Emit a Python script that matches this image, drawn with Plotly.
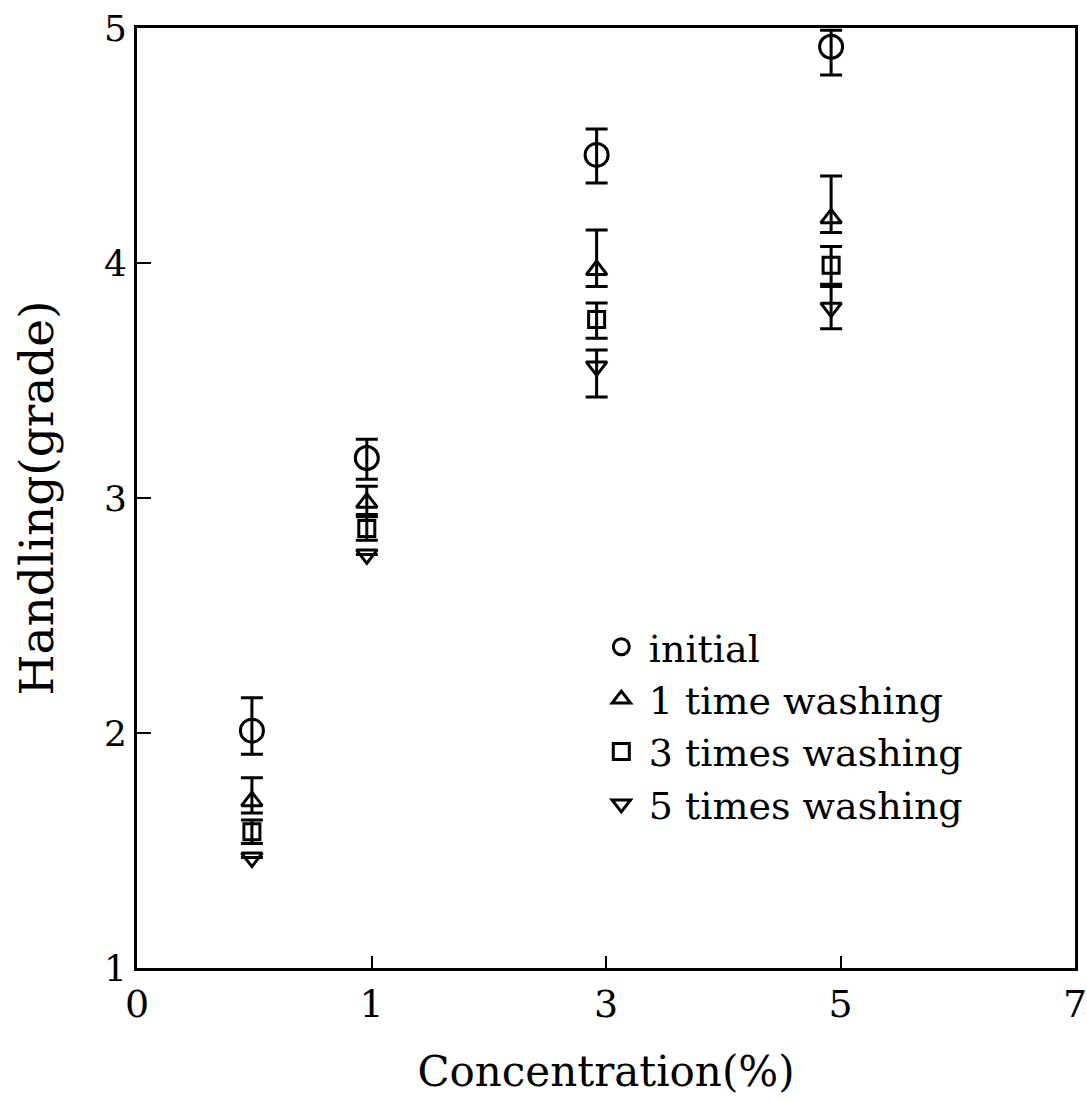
import plotly.graph_objects as go

# x positions on the (evenly spaced) concentration axis; tick labels 0,1,3,5,7
conc_pos = [0.49, 0.98, 1.96, 2.96]
tick_pos = [0, 1, 2, 3, 4]
tick_text = ["0", "1", "3", "5", "7"]

series_names = ["initial", "1 time washing", "3 times washing", "5 times washing"]
initial = [2.01, 3.17, 4.46, 4.92]
initial_up = [0.14, 0.08, 0.11, 0.07]
initial_dn = [0.10, 0.09, 0.12, 0.12]

wash1 = [1.71, 2.98, 3.97, 4.19]
wash1_up = [0.10, 0.07, 0.17, 0.18]
wash1_dn = [0.05, 0.05, 0.07, 0.06]

wash3 = [1.58, 2.87, 3.76, 3.99]
wash3_up = [0.05, 0.05, 0.07, 0.08]
wash3_dn = [0.05, 0.05, 0.08, 0.08]

wash5 = [1.47, 2.76, 3.56, 3.81]
wash5_up = [0.0, 0.0, 0.07, 0.09]
wash5_dn = [0.0, 0.0, 0.13, 0.09]

symbols = ["circle-open", "triangle-up-open", "square-open", "triangle-down-open"]
sizes = [23, 18, 16, 18]

FONT = "DejaVu Serif, Liberation Serif, serif"

fig = go.Figure()
data = [
    (initial, initial_up, initial_dn),
    (wash1, wash1_up, wash1_dn),
    (wash3, wash3_up, wash3_dn),
    (wash5, wash5_up, wash5_dn),
]
for name, (vals, up, dn), sym, sz in zip(series_names, data, symbols, sizes):
    fig.add_trace(go.Scatter(
        x=conc_pos, y=vals, mode="markers", name=name,
        marker=dict(symbol=sym, size=sz, color="black", line=dict(width=3, color="black")),
        error_y=dict(type="data", symmetric=False, array=up, arrayminus=dn,
                     color="black", thickness=3, width=11),
    ))

fig.update_layout(
    width=1087, height=1096,
    paper_bgcolor="white", plot_bgcolor="white",
    margin=dict(l=137, r=12, t=28, b=128),
    font=dict(family=FONT, size=32, color="black"),
    showlegend=True,
    legend=dict(x=0.487, y=0.375, xanchor="left", yanchor="top",
                bgcolor="rgba(0,0,0,0)", font=dict(family=FONT, size=38, color="black"),
                itemsizing="trace", itemwidth=45),
)
fig.update_xaxes(
    range=[0, 4], tickmode="array", tickvals=tick_pos, ticktext=tick_text,
    ticks="inside", ticklen=12, tickwidth=2, tickcolor="black",
    showline=True, linecolor="black", linewidth=3, mirror=True,
    showgrid=False, zeroline=False, ticklabeloverflow="allow", automargin=False,
    tickfont=dict(family=FONT, size=38),
    title=dict(text="Concentration(%)", font=dict(family=FONT, size=42), standoff=44),
)
fig.update_yaxes(
    range=[1, 5], tickmode="array", tickvals=[1, 2, 3, 4, 5],
    ticks="inside", ticklen=14, tickwidth=2, tickcolor="black",
    showline=True, linecolor="black", linewidth=3, mirror=True,
    showgrid=False, zeroline=False, ticklabeloverflow="allow", automargin=False,
    tickfont=dict(family=FONT, size=36),
    title=dict(text="Handling(grade)", font=dict(family=FONT, size=47), standoff=36),
)

# remove the default 8px page margin so the figure sits at the window's top-left corner
fig.write_html("out.html", config={"displayModeBar": False},
               post_script="document.body.style.margin='0px';")
